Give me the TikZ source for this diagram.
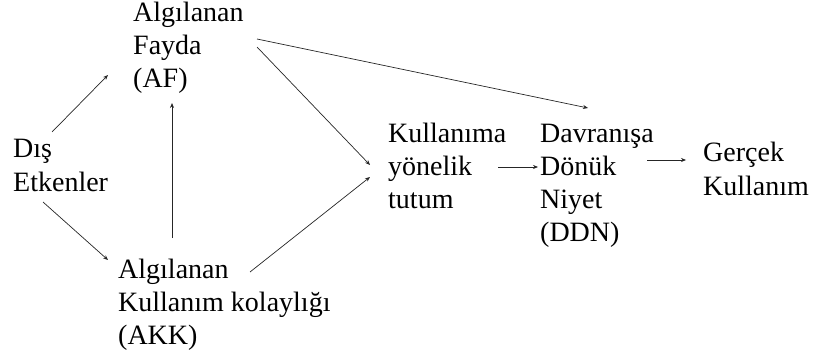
\documentclass[tikz,border=0pt]{standalone}
\usepackage{fontspec}
\setmainfont{Liberation Serif}
\usetikzlibrary{positioning,arrows.meta}

\begin{document}
\begin{tikzpicture}[
      x=1pt, y=-1pt,
      factor/.style={
        inner sep=0,
        anchor=base west,
        align=left,
        font=\fontsize{28}{33}\selectfont,
      },
      link/.style={
        -{Stealth[length=5pt,width=4pt]},
        line width=0.7pt,
        black!85,
      }
      ]
      \useasboundingbox (0,0) rectangle (813,358);
      % nodes sit on the baseline of their last line
      \node[factor] (dis) at (13,191) {Dış\\Etkenler};
      \node[factor] (af) at (133,88) {Algılanan\\Fayda\\(AF)};
      \node[factor] (akk) at (118,344) {Algılanan\\Kullanım kolaylığı\\(AKK)};
      \node[factor] (tut) at (388,208) {Kullanıma\\yönelik\\tutum};
      \node[factor] (ddn) at (540,241) {Davranışa\\Dönük\\Niyet\\(DDN)};
      \node[factor] (ger) at (703,195) {Gerçek\\Kullanım};
      \draw[link] ([shift={(39,-59)}]dis.base west) -- ([shift={(-25,-13)}]af.base west);
      \draw[link] ([shift={(30,11)}]dis.base west) -- ([shift={(-10,-84)}]akk.base west);
      \draw[link] ([shift={(54,-106)}]akk.base west) -- ([shift={(39,15)}]af.base west);
      \draw[link] ([shift={(124,-41)}]af.base west) -- ([shift={(-18,-43)}]tut.base west);
      \draw[link] ([shift={(124,-49)}]af.base west) -- ([shift={(48,-133)}]ddn.base west);
      \draw[link] ([shift={(132,-72)}]akk.base west) -- ([shift={(-18,-31)}]tut.base west);
      \draw[link] ([shift={(110,-41)}]tut.base west) -- ([shift={(-2,-74)}]ddn.base west);
      \draw[link] ([shift={(107,-81)}]ddn.base west) -- ([shift={(-17,-35)}]ger.base west);
\end{tikzpicture}
\end{document}
